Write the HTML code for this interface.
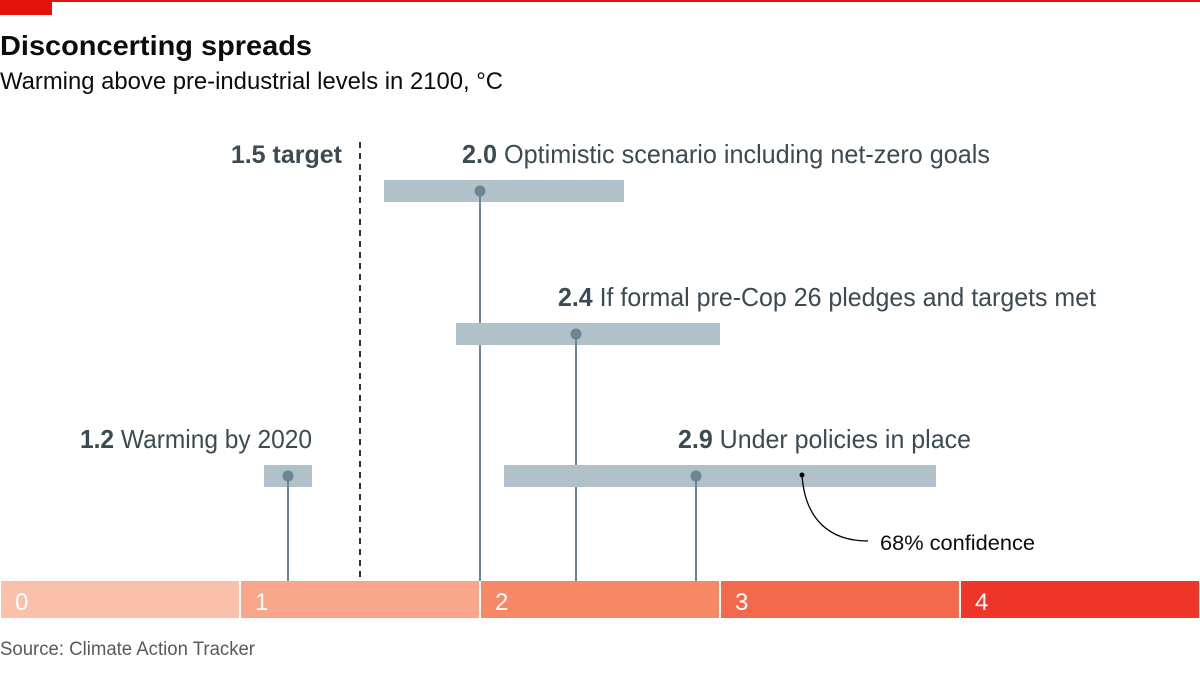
<!DOCTYPE html>
<html><head><meta charset="utf-8"><style>
body{margin:0;background:#fff;}
svg{display:block;font-family:"Liberation Sans",sans-serif;}
</style></head><body>
<svg id="chart" width="1200" height="676" viewBox="0 0 1200 676">
<rect x="0" y="0" width="1200" height="2" fill="#e3120b"/>
<rect x="0" y="0" width="52" height="15" fill="#e3120b"/>
<text x="0" y="55" font-size="28" font-weight="bold" fill="#0c0c0c" textLength="312" lengthAdjust="spacingAndGlyphs">Disconcerting spreads</text>
<text x="0" y="89" font-size="24" fill="#0c0c0c" textLength="503" lengthAdjust="spacingAndGlyphs">Warming above pre-industrial levels in 2100, °C</text>
<text x="0" y="655" font-size="19" fill="#595959" textLength="255" lengthAdjust="spacingAndGlyphs">Source: Climate Action Tracker</text>
<g id="axis"></g>
<g id="marks"></g>
<line x1="0" y1="0" x2="0" y2="0"/>
<circle cx="802" cy="475" r="2.5" fill="#000"/>
<path d="M802,475 C805,520 830,541 868,541" fill="none" stroke="#000" stroke-width="1.3"/>
<text x="880" y="550" font-size="21" fill="#0c0c0c" textLength="155" lengthAdjust="spacingAndGlyphs">68% confidence</text>
</svg>
<script>
const ticks=[0,1,2,3,4];
const tickColors=["#fbc0aa","#f9a68a","#f78866","#f26a4b","#ee3528"];
const values=[2.0,2.4,2.9,1.2];
const lows=[1.6,1.9,2.1,1.1];
const highs=[2.6,3.0,3.9,1.3];
const labels=["Optimistic scenario including net-zero goals","If formal pre-Cop 26 pledges and targets met","Under policies in place","Warming by 2020"];
const target=1.5;
const NS="http://www.w3.org/2000/svg";
const x=v=>v*240;
const rowY=[191,334,476,476];
const labW=[528,538,293,232];
function mk(t,a,p){const e=document.createElementNS(NS,t);for(const k in a)e.setAttribute(k,a[k]);p.appendChild(e);return e;}
const ax=document.getElementById('axis');
ticks.forEach((t,i)=>{
  const r=mk('rect',{x:x(t)+1,y:581,width:238,height:37,fill:tickColors[i]},ax);
  
  
  const tx=mk('text',{x:x(t)+15,y:610,'font-size':24,fill:'#fff'},ax);tx.textContent=t;
  
  
});
const m=document.getElementById('marks');
const dl=mk('line',{x1:x(target),y1:142,x2:x(target),y2:580,stroke:'#333','stroke-width':2,'stroke-dasharray':'6,5'},m);


const tl=mk('text',{x:x(target)-18,y:163,'font-size':25,'font-weight':'bold',fill:'#3b4a53','text-anchor':'end'},m);tl.textContent=target+' target';


values.forEach((v,i)=>{
  const y=rowY[i];
  const b=mk('rect',{x:x(lows[i]),y:y-11,width:x(highs[i])-x(lows[i]),height:22,fill:'#b0c1ca'},m);
  
  
  const s=mk('line',{x1:x(v),y1:y,x2:x(v),y2:581,stroke:'#6a8593','stroke-width':2},m);
  
  
  const c=mk('circle',{cx:x(v),cy:y,r:5.5,fill:'#6a8593'},m);
  
  
  const t=mk('text',{y:y-28,'font-size':26,fill:'#3b4a53',textLength:labW[i],lengthAdjust:'spacingAndGlyphs'},m);
  if(i===3){t.setAttribute('x',x(highs[i])-labW[i]);}else{t.setAttribute('x',x(v)-18);}
  t.innerHTML='<tspan font-weight="bold">'+v.toFixed(1)+'</tspan> '+labels[i];
  
  
});
</script>
</body></html>
